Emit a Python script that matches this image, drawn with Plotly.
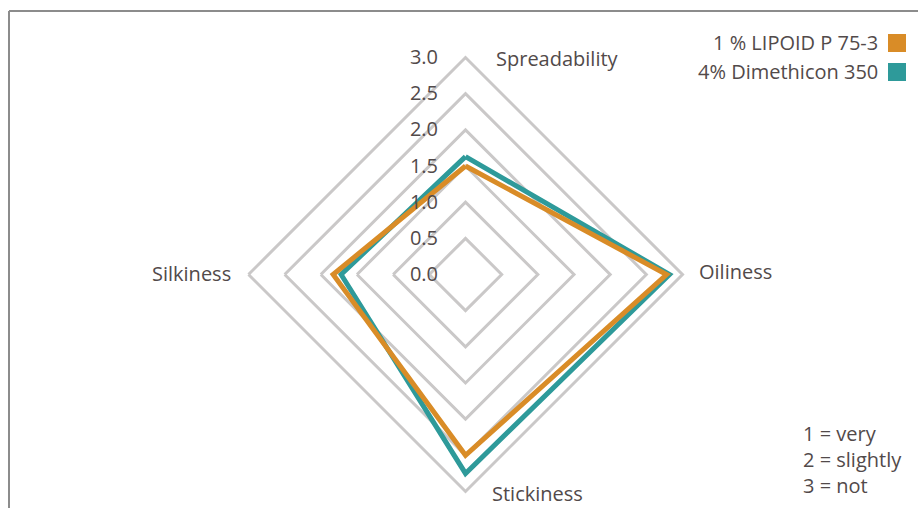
import plotly.graph_objects as go

categories = ["Spreadability", "Oiliness", "Stickiness", "Silkiness"]
lipoid = [1.5, 2.78, 2.5, 1.83]
dimethicon = [1.63, 2.82, 2.75, 1.72]
series_names = ["1 % LIPOID P 75-3", "4% Dimethicon 350"]
colors = ["#D98C27", "#2E9A9A"]
radial_ticks = [0, 0.5, 1.0, 1.5, 2.0, 2.5, 3.0]
note_lines = ["1 = very", "2 = slightly", "3 = not"]

FONT = "Open Sans"
TXT = "#524a4a"
GRID = "#cac8c8"
FS = 20

fig = go.Figure()
for name, vals, col in [(series_names[1], dimethicon, colors[1]), (series_names[0], lipoid, colors[0])]:
    fig.add_trace(go.Scatterpolar(
        r=vals + vals[:1], theta=categories + categories[:1], mode="lines",
        line=dict(color=col, width=5), name=name, showlegend=False,
    ))

W, H = 918, 508
cx, cy, R = 465.5, 274.5, 217
fig.update_layout(
    width=W, height=H, margin=dict(l=0, r=0, t=0, b=0),
    paper_bgcolor="white", plot_bgcolor="white",
    font=dict(family=FONT, color=TXT, size=FS),
    polar=dict(
        domain=dict(x=[(cx - R) / W, (cx + R) / W], y=[(H - cy - R) / H, (H - cy + R) / H]),
        gridshape="linear", bgcolor="white",
        radialaxis=dict(range=[0, 3], tickvals=radial_ticks, tickformat=".1f",
                        showline=False, gridcolor=GRID, gridwidth=3, angle=90, tickangle=90,
                        side="counterclockwise", ticks="outside", ticklen=20, tickcolor="rgba(0,0,0,0)",
                        tickfont=dict(size=FS, color=TXT, family=FONT)),
        angularaxis=dict(rotation=90, direction="clockwise", showgrid=False, showline=True,
                         linecolor=GRID, linewidth=3, showticklabels=False, ticks=""),
    ),
)

# category labels
label_pos = [(557, 58, "center"), (697, 271, "left"), (490, 493, "left"), (233, 273, "right")]
for cat, (x, y, anc) in zip(categories, label_pos):
    fig.add_annotation(x=x / W, y=1 - y / H, xref="paper", yref="paper", text=cat,
                       showarrow=False, xanchor=anc, yanchor="middle",
                       font=dict(size=FS, color=TXT, family=FONT))

# legend (text right, square key at right)
leg_y = [43, 72]
for name, col, y in zip(series_names, colors, leg_y):
    fig.add_annotation(x=880 / W, y=1 - y / H, xref="paper", yref="paper", text=name,
                       showarrow=False, xanchor="right", yanchor="middle",
                       font=dict(size=FS, color=TXT, family=FONT))
    fig.add_shape(type="rect", xref="paper", yref="paper",
                  x0=888 / W, x1=906 / W, y0=1 - (y - 9) / H, y1=1 - (y + 9) / H,
                  fillcolor=col, line=dict(width=0))

for i, t in enumerate(note_lines):
    y = 433 + 26 * i
    fig.add_annotation(x=801 / W, y=1 - y / H, xref="paper", yref="paper", text=t,
                       showarrow=False, xanchor="left", yanchor="middle",
                       font=dict(size=FS, color=TXT, family=FONT))

# frame
fig.add_shape(type="line", xref="paper", yref="paper", x0=9 / W, x1=1, y0=1 - 11 / H, y1=1 - 11 / H,
              line=dict(color="#8c8c8c", width=2))
fig.add_shape(type="line", xref="paper", yref="paper", x0=9 / W, x1=9 / W, y0=1 - 11 / H, y1=0,
              line=dict(color="#8c8c8c", width=2))

fig.write_html("out.html")
